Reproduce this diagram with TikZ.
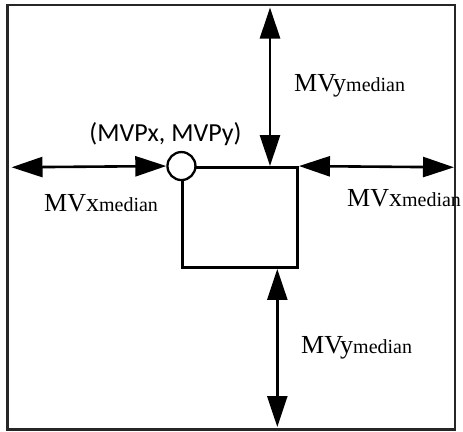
\documentclass[tikz,border=0pt]{standalone}
\usepackage{fontspec}
\setmainfont{Liberation Serif}
\newfontfamily\labsans{Carlito}
\usetikzlibrary{arrows.meta}
\newcommand{\mvlabel}[1]{{\fontsize{26}{26}\selectfont MV#1}{\fontsize{20}{20}\selectfont median}}
\tikzset{
  frame/.style={draw=black!85, line width=2.2pt},
  blockbox/.style={draw=black, line width=2.5pt, minimum width=115pt, minimum height=100.4pt, inner sep=0pt},
  mvpoint/.style={circle, draw=black, fill=white, line width=2.3pt, minimum size=28pt, inner sep=0pt},
  dimarrow/.style={line width=2.6pt, draw=black, {Triangle[length=31pt,width=20pt]}-{Triangle[length=31pt,width=20pt]}},
  lab/.style={anchor=base west, inner sep=0pt, text=black}
}
\begin{document}
\begin{tikzpicture}[x=1pt,y=-1pt]
  \useasboundingbox (0,0) rectangle (463,431);
  % outer frame
  \draw[frame] (7.5,5) rectangle (455,429.5);
  % block and its top-left motion vector point
  \node[blockbox] (blk) at (240.2,217.5) {};
  \node[mvpoint] (mvp) at (blk.north west) {};
  % free ends of the dimension arrows
  \coordinate (topend) at (270,7.5);
  \coordinate (botend) at (277.3,427);
  \coordinate (leftend) at (11.5,167.3);
  \coordinate (rightend) at (454,167.3);
  % dimension arrows
  \draw[dimarrow] (topend) -- (topend |- blk.north);
  \draw[dimarrow] (botend |- blk.south) -- (botend);
  \draw[dimarrow] (leftend) -- (mvp.west);
  \draw[dimarrow] (blk.north east) -- (rightend);
  % labels
  \node[lab] (ly1) at (294,91.5) {\mvlabel{y}};
  \node[lab] (ly2) at (301,353) {\mvlabel{y}};
  \node[lab] (lx1) at (44,211.5) {\mvlabel{x}};
  \node[lab] (lx2) at (347,206.5) {\mvlabel{x}};
  \node[anchor=base, inner sep=0pt, text=black, font=\labsans\fontsize{26}{26}\selectfont] (mvplab) at (165.5,141.5) {(MVPx, MVPy)};
\end{tikzpicture}
\end{document}
